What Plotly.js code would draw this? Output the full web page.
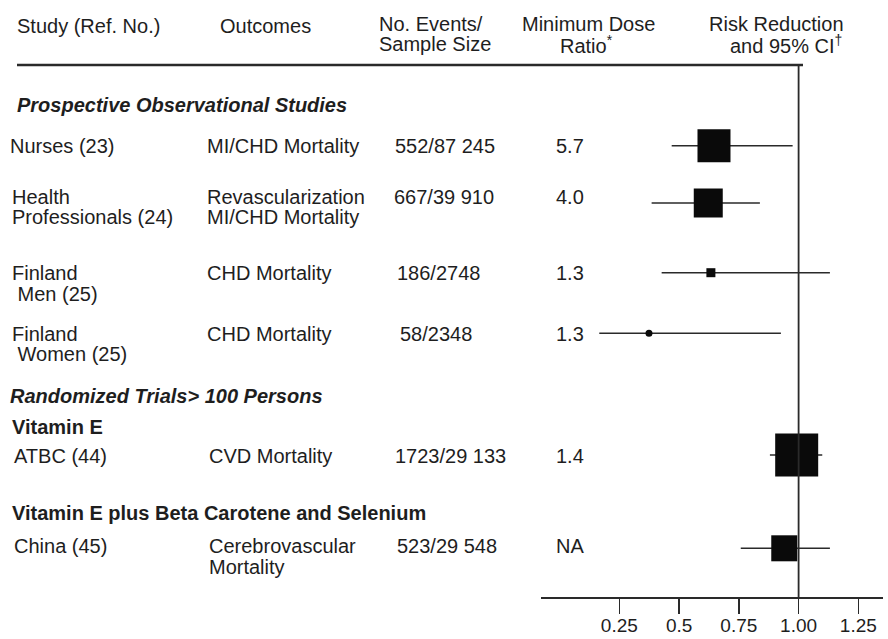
<!DOCTYPE html>
<html>
<head>
<meta charset="utf-8">
<script src="https://cdn.plot.ly/plotly-3.0.1.min.js"></script>
<style>html,body{margin:0;padding:0;background:#fff;}#chart{width:888px;height:639px;}</style>
</head>
<body>
<div id="chart"></div>
<script>
// ---------------- DATA ----------------
const studyLines = [["Nurses (23)"], ["Health", "Professionals (24)"], ["Finland", "\u00a0Men (25)"], ["Finland", "\u00a0Women (25)"], ["ATBC (44)"], ["China (45)"]];
const outcomeLines = [["MI/CHD Mortality"], ["Revascularization", "MI/CHD Mortality"], ["CHD Mortality"], ["CHD Mortality"], ["CVD Mortality"], ["Cerebrovascular", "Mortality"]];
const eventsSample = ["552/87 245", "667/39 910", "186/2748", "58/2348", "1723/29 133", "523/29 548"];
const doseRatio = ["5.7", "4.0", "1.3", "1.3", "1.4", "NA"];
const riskRatio = [0.646, 0.622, 0.633, 0.374, 0.992, 0.940];
const ciLow = [0.469, 0.385, 0.427, 0.166, 0.880, 0.758];
const ciHigh = [0.975, 0.838, 1.131, 0.926, 1.099, 1.131];
const sectionLabels = ["Prospective Observational Studies", "Randomized Trials> 100 Persons", "Vitamin E", "Vitamin E plus Beta Carotene and Selenium"];
const tickValues = [0.25, 0.5, 0.75, 1.0, 1.25];
const tickLabels = ["0.25", "0.5", "0.75", "1.00", "1.25"];

// ---------------- LAYOUT / STYLE ----------------
const W = 888, H = 639;
const AXIS_Y = 597;             // pixel row of the x axis line
const RULE_Y = 65;              // header rule
const LINE_GAP = 20.5;          // spacing between wrapped text lines
const rowTextY = [145.5, 196.5, 273, 333.5, 456, 546];
const rowMarkY = [145.7, 203, 272.7, 333.3, 455, 548.3];
const markSize = [33, 29, 9, 7, 43, 26];
const markSymbol = ["square", "square", "square", "circle", "square", "square"];
const sectionY = [105, 396, 427, 513];
const sectionX = [15, 8, 10, 10];
const sectionStyle = ["bi", "bi", "b", "b"];
const studyX = [8, 10, 10, 10, 12, 12];
const outcomeX = [205, 205, 205, 205, 207, 207];
const eventsX = [393, 392, 395, 398, 393, 395];
const doseX = 554;
const FONT = "Liberation Sans, Arial, Helvetica, sans-serif";
const TXT = "#1e1e1e";
const LINE = "#2a2a2a";

const ann = [];
function txt(s, px, py, o) {
  o = o || {};
  ann.push({
    text: s, x: px / W, xref: "paper", y: py, yref: "y",
    xanchor: o.anchor || "left", yanchor: "middle", showarrow: false,
    font: { family: FONT, size: o.size || 20, color: TXT, weight: o.bold ? 700 : 400, style: o.italic ? "italic" : "normal" }
  });
}

// header
txt("Study (Ref. No.)", 15, 26);
txt("Outcomes", 218, 26);
txt("No. Events/", 377, 24);
txt("Sample Size", 377, 44);
txt("Minimum Dose", 588, 24, { anchor: "center" });
txt("Ratio<sup>*</sup>", 586, 44, { anchor: "center" });
txt("Risk Reduction", 846, 24, { anchor: "right" });
txt("and 95% CI<sup>†</sup>", 844, 44, { anchor: "right" });

// sections
sectionLabels.forEach((s, i) => {
  txt(s, sectionX[i], sectionY[i], { bold: true, italic: sectionStyle[i] === "bi" });
});

// table rows
studyLines.forEach((lines, i) => {
  lines.forEach((l, k) => txt(l, studyX[i], rowTextY[i] + k * LINE_GAP));
  outcomeLines[i].forEach((l, k) => txt(l, outcomeX[i], rowTextY[i] + k * LINE_GAP));
  txt(eventsSample[i], eventsX[i], rowTextY[i]);
  txt(doseRatio[i], doseX, rowTextY[i]);
});

const trace = {
  type: "scatter", mode: "markers",
  x: riskRatio, y: rowMarkY,
  marker: { symbol: markSymbol, size: markSize, color: "#0a0a0a", opacity: 1, line: { width: 0 } },
  error_x: {
    type: "data", symmetric: false,
    array: riskRatio.map((v, i) => ciHigh[i] - v),
    arrayminus: riskRatio.map((v, i) => v - ciLow[i]),
    width: 0, thickness: 1.6, color: LINE
  },
  cliponaxis: false, hoverinfo: "skip", showlegend: false
};

const xLeftPx = 541, xRightPx = 883, x0Px = 559.6, pxPerUnit = 239;
const layout = {
  width: W, height: H,
  margin: { l: 0, r: 0, t: 0, b: 0, pad: 0 },
  paper_bgcolor: "#fff", plot_bgcolor: "rgba(0,0,0,0)",
  showlegend: false,
  font: { family: FONT, color: TXT },
  xaxis: {
    domain: [xLeftPx / W, xRightPx / W],
    range: [(xLeftPx - x0Px) / pxPerUnit, (xRightPx - x0Px) / pxPerUnit],
    tickmode: "array", tickvals: tickValues, ticktext: tickLabels,
    ticks: "outside", ticklen: 15, tickwidth: 1.6, tickcolor: LINE,
    ticklabelstandoff: -4,
    showline: true, linecolor: LINE, linewidth: 1.6,
    showgrid: false, zeroline: false,
    tickfont: { family: FONT, size: 19, color: TXT },
    fixedrange: true
  },
  yaxis: {
    domain: [(H - AXIS_Y) / H, 1],
    range: [AXIS_Y, 0],
    visible: false, showgrid: false, zeroline: false, fixedrange: true
  },
  shapes: [
    { type: "line", xref: "paper", yref: "y", x0: 17 / W, x1: 803 / W, y0: RULE_Y, y1: RULE_Y, line: { color: LINE, width: 2.5 } },
    { type: "line", xref: "x", yref: "y", x0: 1, x1: 1, y0: RULE_Y, y1: AXIS_Y, line: { color: LINE, width: 1.8 } }
  ],
  annotations: ann
};

Plotly.newPlot("chart", [trace], layout, { staticPlot: true, displayModeBar: false });
</script>
</body>
</html>
